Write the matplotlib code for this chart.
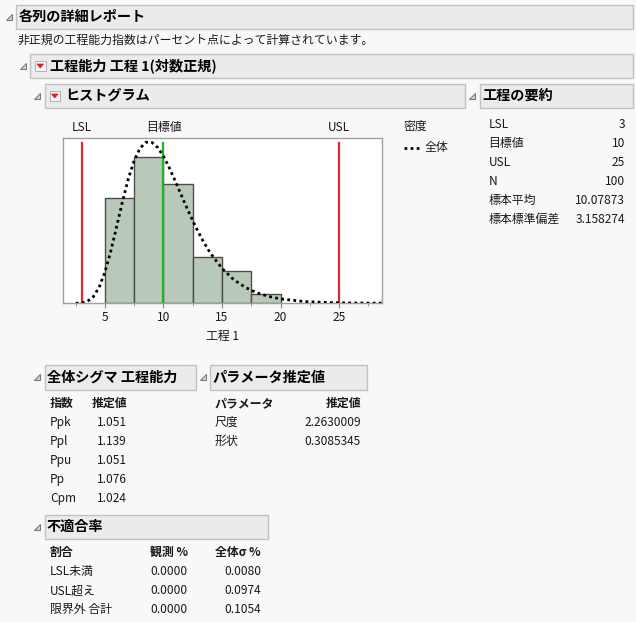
import matplotlib.pyplot as plt
from matplotlib.patches import Rectangle, Polygon

plt.rcParams['font.family'] = ['Noto Sans CJK JP', 'DejaVu Sans']

# histogram data
bin_edges = [5, 7.5, 10, 12.5, 15, 17.5, 20]
counts = [23, 32, 26, 10, 7, 2]

# fitted lognormal density (scaled to counts)
curve_x = [2.5, 3, 3.5, 4, 4.5, 5, 5.5, 6, 6.5, 7, 7.5, 8, 8.5, 9, 9.5, 10, 10.5, 11,
           11.5, 12, 12.5, 13, 13.5, 14, 15, 16, 17, 18, 19, 20, 22, 24, 26, 28.7]
curve_y = [0.01, 0.09, 0.43, 1.43, 3.49, 6.86, 11.43, 16.78, 22.26, 27.24, 31.20, 33.85,
           35.14, 35.11, 34.01, 32.07, 29.55, 26.71, 23.74, 20.80, 18.00, 15.41, 13.06,
           10.98, 7.61, 5.17, 3.45, 2.27, 1.49, 0.96, 0.40, 0.17, 0.07, 0.02]

lsl, target, usl = 3, 10, 25
tick_values = [5, 10, 15, 20, 25]
minor_ticks = [2.5, 7.5, 12.5, 17.5, 22.5, 27.5]

summary_labels = ["LSL", "目標値", "USL", "N", "標本平均", "標本標準偏差"]
summary_values = ["3", "10", "25", "100", "10.07873", "3.158274"]
cap_labels = ["Ppk", "Ppl", "Ppu", "Pp", "Cpm"]
cap_values = ["1.051", "1.139", "1.051", "1.076", "1.024"]
param_labels = ["尺度", "形状"]
param_values = ["2.2630009", "0.3085345"]
nc_labels = ["LSL未満", "USL超え", "限界外 合計"]
nc_observed = ["0.0000", "0.0000", "0.0000"]
nc_overall = ["0.0080", "0.0974", "0.1054"]

W, H = 636, 622
BG = "#f8f8f8"
TXT = "#1a1a1a"
FS = 8.6
HFS = 10.2

fig = plt.figure(figsize=(W / 100, H / 100), dpi=100, facecolor=BG)
bg = fig.add_axes([0, 0, 1, 1])
bg.set_xlim(0, W)
bg.set_ylim(H, 0)
bg.axis("off")


def header(x0, x1, y0, y1, title, icon=False):
    bg.add_patch(Rectangle((x0, y0), x1 - x0, y1 - y0, fc="#ebebeb", ec="#c2c2c2", lw=1))
    yc = (y0 + y1) / 2
    bg.add_patch(Polygon([(x0 - 10.5, yc + 3), (x0 - 4.5, yc + 3), (x0 - 4.5, yc - 3)],
                         closed=True, fc="#d6d6d6", ec="#7a7a7a", lw=0.8))
    tx = x0 + 2.5
    if icon:
        bg.add_patch(Rectangle((x0 + 5, yc - 4.5), 10.5, 9.5, fc="#f6f6f6", ec="#b4b4b4", lw=0.7))
        bg.add_patch(Polygon([(x0 + 7, yc - 1.5), (x0 + 13.5, yc - 1.5), (x0 + 10.25, yc + 2.5)],
                             closed=True, fc="#d8202a", ec="#d8202a", lw=0.5))
        tx = x0 + 20.5
    bg.text(tx, yc + 0.5, title, fontsize=HFS, fontweight="bold", color="#000000",
            ha="left", va="center")


header(16, 633, 5, 28.5, "各列の詳細レポート")
bg.text(18, 40, "非正規の工程能力指数はパーセント点によって計算されています。",
        fontsize=FS, color=TXT, ha="left", va="center")
header(30, 633, 53.5, 77.5, "工程能力 工程 1(対数正規)", icon=True)
header(44.5, 464.5, 83.5, 107.5, "ヒストグラム", icon=True)
header(479.5, 633, 83.5, 107.5, "工程の要約")
header(44.5, 195.5, 365, 389.5, "全体シグマ 工程能力")
header(210, 366.5, 365, 389.5, "パラメータ推定値")
header(44.5, 267.5, 514.5, 538.5, "不適合率")

# spec labels above the plot
px_per_unit = 11.7
def xpix(v):
    return 105 + (v - 5) * px_per_unit

bg.text(xpix(lsl), 127.5, "LSL", fontsize=FS, color=TXT, ha="center", va="center")
bg.text(xpix(target), 127.5, "目標値", fontsize=FS, color=TXT, ha="center", va="center")
bg.text(xpix(usl), 127.5, "USL", fontsize=FS, color=TXT, ha="center", va="center")

# legend
bg.text(404, 126.5, "密度", fontsize=FS, color=TXT, ha="left", va="center")
bg.plot([404, 421], [148, 148], color="black", lw=2, linestyle=(0, (1, 1.2)))
bg.text(425, 148, "全体", fontsize=FS, color=TXT, ha="left", va="center")

# process summary
for i, (lab, val) in enumerate(zip(summary_labels, summary_values)):
    y = 124.5 + i * 19
    bg.text(488.5, y, lab, fontsize=FS, color=TXT, ha="left", va="center")
    bg.text(625, y, val, fontsize=FS, color=TXT, ha="right", va="center")

# overall sigma capability
bg.text(50, 403.5, "指数", fontsize=FS, fontweight="bold", color=TXT, ha="left", va="center")
bg.text(127, 403.5, "推定値", fontsize=FS, fontweight="bold", color=TXT, ha="right", va="center")
for i, (lab, val) in enumerate(zip(cap_labels, cap_values)):
    y = 422.7 + i * 19
    bg.text(50, y, lab, fontsize=FS, color=TXT, ha="left", va="center")
    bg.text(127, y, val, fontsize=FS, color=TXT, ha="right", va="center")

# parameter estimates
bg.text(215, 403.5, "パラメータ", fontsize=FS, fontweight="bold", color=TXT, ha="left", va="center")
bg.text(361, 403.5, "推定値", fontsize=FS, fontweight="bold", color=TXT, ha="right", va="center")
for i, (lab, val) in enumerate(zip(param_labels, param_values)):
    y = 422.7 + i * 19
    bg.text(215, y, lab, fontsize=FS, color=TXT, ha="left", va="center")
    bg.text(361, y, val, fontsize=FS, color=TXT, ha="right", va="center")

# nonconformance
bg.text(50, 552.7, "割合", fontsize=FS, fontweight="bold", color=TXT, ha="left", va="center")
bg.text(187.5, 552.7, "観測 %", fontsize=FS, fontweight="bold", color=TXT, ha="right", va="center")
bg.text(261, 552.7, "全体σ %", fontsize=FS, fontweight="bold", color=TXT, ha="right", va="center")
for i, lab in enumerate(nc_labels):
    y = 571.7 + i * 19
    bg.text(50, y, lab, fontsize=FS, color=TXT, ha="left", va="center")
    bg.text(187.5, y, nc_observed[i], fontsize=FS, color=TXT, ha="right", va="center")
    bg.text(261, y, nc_overall[i], fontsize=FS, color=TXT, ha="right", va="center")

# histogram
left, right, top, bottom = 62.7, 382, 138.3, 303.3
ax = fig.add_axes([left / W, (H - bottom) / H, (right - left) / W, (bottom - top) / H])
ax.set_facecolor("white")
widths = [bin_edges[i + 1] - bin_edges[i] for i in range(len(counts))]
ax.bar(bin_edges[:-1], counts, width=widths, align="edge",
       color="#b9c9b9", edgecolor="#4d4d4d", linewidth=1.0, zorder=2)
ax.axvline(lsl, ymax=0.97, color="#e02834", lw=1.6, zorder=3)
ax.axvline(usl, ymax=0.97, color="#e02834", lw=1.6, zorder=3)
ax.axvline(target, ymax=0.97, color="#1fb51f", lw=1.6, zorder=3)
ax.plot(curve_x, curve_y, color="black", lw=2, linestyle=(0, (1, 1.2)), zorder=4)

ax.set_xlim(1.385, 28.675)
ax.set_ylim(0, 36)
ax.set_yticks([])
ax.set_xticks(tick_values)
ax.set_xticks(minor_ticks, minor=True)
ax.tick_params(axis="x", which="major", length=3.6, color="#8a8a8a", labelsize=FS,
               labelcolor=TXT, pad=2)
ax.tick_params(axis="x", which="minor", length=2.2, color="#8a8a8a")
for s in ax.spines.values():
    s.set_color("#a0a0a0")
    s.set_linewidth(1)
ax.set_xlabel("工程 1", fontsize=FS, color=TXT, labelpad=4)

fig.savefig("out.png", dpi=100, facecolor=BG)
